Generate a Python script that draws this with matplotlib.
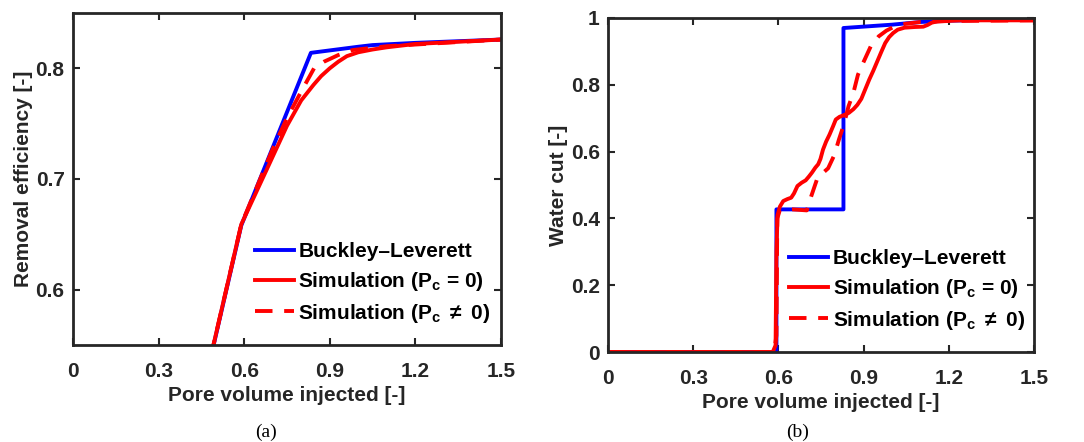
"""Removal efficiency and water cut versus pore volume injected."""
import matplotlib
matplotlib.use('Agg')
import matplotlib.pyplot as plt

plt.rcParams['font.family'] = ['Liberation Sans', 'DejaVu Sans']
plt.rcParams['font.weight'] = 'bold'
plt.rcParams['mathtext.fontset'] = 'custom'
plt.rcParams['mathtext.rm'] = 'Liberation Sans:bold'
plt.rcParams['mathtext.it'] = 'Liberation Sans:bold'
plt.rcParams['mathtext.bf'] = 'Liberation Sans:bold'

DARK = '#262626'

# (a) removal efficiency
bl_a_x = [0, 0.59, 0.834, 1.0, 1.05, 1.2, 1.5]
bl_a_y = [0, 0.658, 0.814, 0.8195, 0.821, 0.823, 0.826]
sim_a_x = [0, 0.59, 0.68, 0.75, 0.80, 0.843, 0.87, 0.9, 0.93, 0.96, 1.0,
           1.05, 1.1, 1.2, 1.5]
sim_a_y = [0, 0.659, 0.709, 0.748, 0.771, 0.785, 0.793, 0.800, 0.806, 0.811,
           0.8145, 0.817, 0.819, 0.822, 0.826]
pc_a_x = [0, 0.59, 0.70, 0.75, 0.80, 0.845, 0.88, 0.93, 0.98, 1.1, 1.5]
pc_a_y = [0, 0.659, 0.727, 0.755, 0.779, 0.800, 0.806, 0.812, 0.8165, 0.820,
          0.826]

# (b) water cut
bl_b_x = [0, 0.593, 0.593, 0.829, 0.829, 1.0, 1.1, 1.2, 1.5]
bl_b_y = [0, 0, 0.427, 0.427, 0.97, 0.98, 0.988, 0.992, 0.997]
sim_b_x = [0, 0.58, 0.59, 0.593, 0.597, 0.605, 0.617, 0.632, 0.645, 0.655,
           0.667, 0.682, 0.696, 0.707, 0.718, 0.73, 0.74, 0.748, 0.757, 0.768,
           0.78, 0.792, 0.802, 0.815, 0.83, 0.848, 0.864, 0.878, 0.892, 0.905,
           0.92, 0.934, 0.948, 0.962, 0.976, 0.99, 1.004, 1.02, 1.044, 1.08,
           1.11, 1.125, 1.14, 1.16, 1.25, 1.5]
sim_b_y = [0, 0, 0.02, 0.3, 0.41, 0.435, 0.452, 0.458, 0.462, 0.475,
           0.497, 0.507, 0.514, 0.525, 0.537, 0.552, 0.562, 0.578, 0.606, 0.630,
           0.651, 0.675, 0.696, 0.704, 0.709, 0.716, 0.727, 0.740, 0.758, 0.785,
           0.816, 0.842, 0.870, 0.898, 0.925, 0.943, 0.955, 0.965, 0.971, 0.973,
           0.974, 0.979, 0.986, 0.990, 0.993, 0.993]
pc_b_x = [0, 0.585, 0.593, 0.596, 0.605, 0.65, 0.70, 0.715, 0.735, 0.755,
          0.775, 0.797, 0.813, 0.83, 0.847, 0.864, 0.88, 0.898, 0.925, 0.953,
          0.98, 1.01, 1.05, 1.1, 1.2, 1.5]
pc_b_y = [0, 0, 0.05, 0.40, 0.425, 0.427, 0.424, 0.465, 0.515, 0.535,
          0.55, 0.59, 0.636, 0.68, 0.736, 0.776, 0.83, 0.865, 0.915, 0.945,
          0.962, 0.975, 0.983, 0.988, 0.991, 0.993]

x_ticks = [0, 0.3, 0.6, 0.9, 1.2, 1.5]
x_labels = ['0', '0.3', '0.6', '0.9', '1.2', '1.5']
ya_ticks = [0.6, 0.7, 0.8]
ya_labels = ['0.6', '0.7', '0.8']
yb_ticks = [0, 0.2, 0.4, 0.6, 0.8, 1]
yb_labels = ['0', '0.2', '0.4', '0.6', '0.8', '1']

labels = ['Buckley\u2013Leverett',
          r'Simulation (P$_{\mathrm{c}}$ = 0)',
          r'Simulation (P$_{\mathrm{c}}$ $\neq$ 0)']

fig = plt.figure(figsize=(10.84, 4.42), dpi=100)
ax1 = fig.add_axes([0.0673, 0.2195, 0.3948, 0.7511])
ax2 = fig.add_axes([0.5609, 0.2036, 0.3930, 0.7557])

lw = 2.8
dash = (0, (4.5, 3))
FS = 15


def style(ax, yt, yl, ylim, ylabel):
    ax.set_xlim(0, 1.5)
    ax.set_ylim(*ylim)
    ax.set_xticks(x_ticks)
    ax.set_xticklabels(x_labels)
    ax.set_yticks(yt)
    ax.set_yticklabels(yl)
    ax.tick_params(direction='in', length=5, width=1.5, top=True, right=True,
                   labelsize=FS, colors=DARK, pad=6)
    ax.tick_params(axis='x', pad=12)
    for s in ax.spines.values():
        s.set_linewidth(2)
        s.set_color(DARK)
    ax.set_xlabel('Pore volume injected [-]', fontsize=FS, color=DARK,
                  fontweight='bold', labelpad=4)
    ax.set_ylabel(ylabel, fontsize=FS, color=DARK, fontweight='bold',
                  labelpad=2)


for ax, data in [(ax1, (bl_a_x, bl_a_y, sim_a_x, sim_a_y, pc_a_x, pc_a_y)),
                 (ax2, (bl_b_x, bl_b_y, sim_b_x, sim_b_y, pc_b_x, pc_b_y))]:
    ax.plot(data[0], data[1], color='#0000ff', lw=lw, label=labels[0])
    ax.plot(data[2], data[3], color='#ff0000', lw=lw, label=labels[1])
    ax.plot(data[4], data[5], color='#ff0000', lw=lw, ls=dash, label=labels[2])
    ax.legend(loc='lower left', bbox_to_anchor=(0.40, 0.03), frameon=False,
              fontsize=FS, handlelength=1.9, handletextpad=0.2,
              labelspacing=0.42, borderpad=0, labelcolor='black')

style(ax1, ya_ticks, ya_labels, (0.55, 0.85), 'Removal efficiency [-]')
style(ax2, yb_ticks, yb_labels, (0, 1), 'Water cut [-]')

fig.text(0.245, 0.012, '(a)', family='Liberation Serif', fontweight='normal',
         fontsize=14, ha='center')
fig.text(0.736, 0.012, '(b)', family='Liberation Serif', fontweight='normal',
         fontsize=14, ha='center')

fig.savefig('out.png', dpi=100)
